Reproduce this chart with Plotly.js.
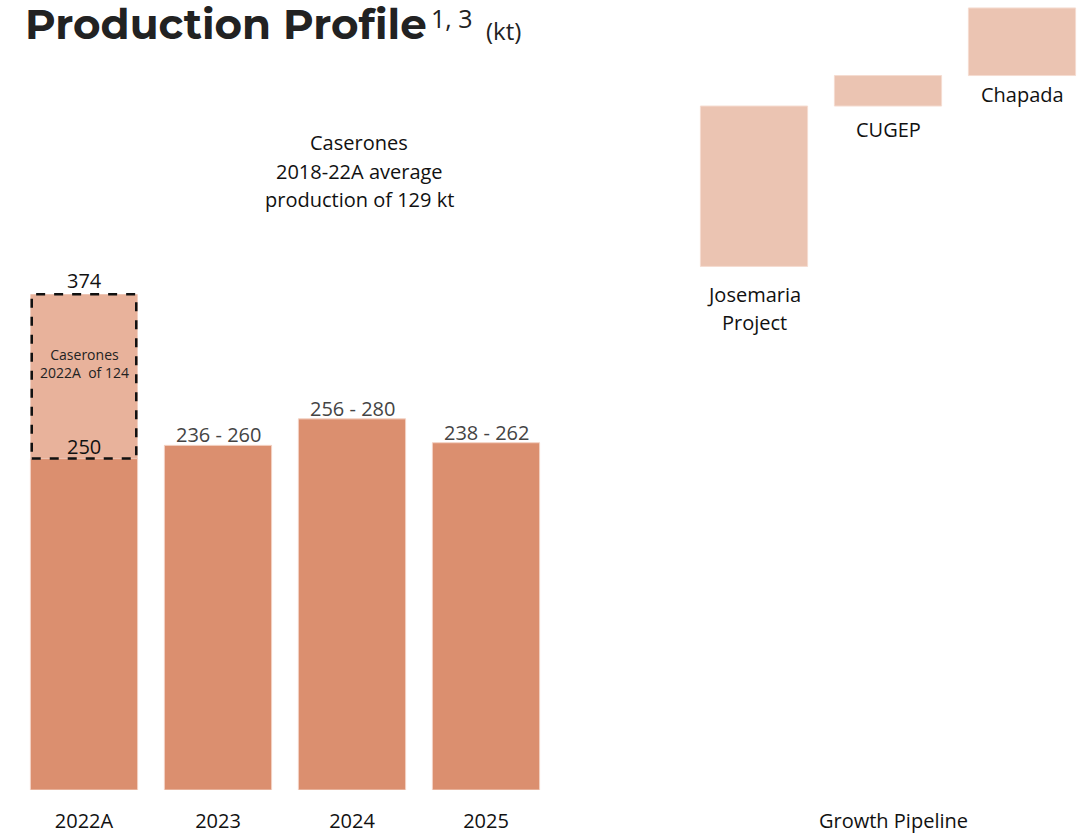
<!DOCTYPE html>
<html>
<head>
<meta charset="utf-8">
<script src="https://cdn.plot.ly/plotly-3.0.1.min.js"></script>
<style>html,body{margin:0;padding:0;background:#fff;}#chart{width:1089px;height:835px;}</style>
</head>
<body>
<div id="chart"></div>
<script>
// ---- data ----
var years = ['2022A', '2023', '2024', '2025'];
var yearPos = [0, 1, 2, 3];
var productionTop = [250, 260, 280, 262];
var rangeLabels = ['250', '236 - 260', '256 - 280', '238 - 262'];
var caseronesAdd = [124];
var caseronesTotal = 374;

var pipelineNames = ['Josemaria Project', 'CUGEP', 'Chapada'];
var pipelinePos = [5, 6, 7];
var pipelineBase = [395, 516, 539];
var pipelineSize = [121, 23, 51];

// ---- colours ----
var cMain = '#DB8F6F';
var cCaser = '#E8B29B';
var cPipe = '#EBC4B2';
var font = 'Open Sans, Noto Sans, sans-serif';

var traces = [
  {type: 'bar', x: yearPos, y: productionTop, width: 0.8,
   marker: {color: cMain, line: {color: '#f3d2c4', width: 1}}, hoverinfo: 'skip'},
  {type: 'bar', x: [0], y: caseronesAdd, base: [productionTop[0]], width: 0.8,
   marker: {color: cCaser, line: {width: 0}}, hoverinfo: 'skip'},
  {type: 'bar', x: pipelinePos, y: pipelineSize, base: pipelineBase, width: 0.8,
   marker: {color: cPipe, line: {color: '#f5dcd1', width: 1}}, hoverinfo: 'skip'}
];

var ann = [];
for (var i = 1; i < years.length; i++) {
  ann.push({x: yearPos[i], y: productionTop[i], xref: 'x', yref: 'y', text: rangeLabels[i],
    showarrow: false, yanchor: 'bottom', yshift: -5, font: {family: font, size: 20, color: '#444'}});
}
ann.push({x: 0, y: productionTop[0], text: rangeLabels[0], showarrow: false, yanchor: 'bottom', yshift: -3,
  font: {family: font, size: 20, color: '#111'}});
ann.push({x: 0, y: caseronesTotal, text: String(caseronesTotal), showarrow: false, yanchor: 'bottom', yshift: -2,
  font: {family: font, size: 20, color: '#111'}});
ann.push({x: 0, y: productionTop[0] + caseronesAdd[0] / 2, text: 'Caserones<br>2022A  of ' + caseronesAdd[0],
  showarrow: false, yshift: 13, font: {family: font, size: 14, color: '#222'}});

var note = ['Caserones', '2018-22A average', 'production of 129 kt'];
for (var j = 0; j < note.length; j++) {
  ann.push({xref: 'paper', yref: 'paper', x: (359 - 17) / 1072, y: 1 - (143 + 28 * j) / 790,
    text: note[j], showarrow: false, xanchor: 'center', yanchor: 'middle',
    font: {family: font, size: 20, color: '#111'}});
}

var pipeLines = [['Josemaria', 'Project'], ['CUGEP'], ['Chapada']];
var pipeShift = [28, 23, 19];
for (var k = 0; k < pipelinePos.length; k++) {
  for (var m = 0; m < pipeLines[k].length; m++) {
    ann.push({x: pipelinePos[k], y: pipelineBase[k], text: pipeLines[k][m], showarrow: false,
      yanchor: 'middle', yshift: -(pipeShift[k] + 28 * m), font: {family: font, size: 20, color: '#111'}});
  }
}
ann.push({xref: 'x', yref: 'paper', x: 6.04, y: 0, yanchor: 'middle', yshift: -30, text: 'Growth Pipeline',
  showarrow: false, font: {family: font, size: 20, color: '#111'}});

// title
ann.push({xref: 'paper', yref: 'paper', x: 6 / 1072, y: 1, xanchor: 'left', yanchor: 'middle', yshift: -24,
  text: '<b>Production Profile</b>', showarrow: false,
  font: {family: 'Montserrat, Lato, Open Sans, sans-serif', size: 42, color: '#222'}});
ann.push({xref: 'paper', yref: 'paper', x: (429 - 17) / 1072, y: 1, xanchor: 'left', yanchor: 'middle', yshift: -18,
  text: '1, 3', showarrow: false, font: {family: font, size: 25, color: '#222'}});
ann.push({xref: 'paper', yref: 'paper', x: (484 - 17) / 1072, y: 1, xanchor: 'left', yanchor: 'middle', yshift: -30,
  text: '(kt)', showarrow: false, font: {family: font, size: 24, color: '#222'}});

var layout = {
  width: 1089, height: 835,
  margin: {l: 17, r: 0, t: 0, b: 45},
  paper_bgcolor: '#fff', plot_bgcolor: '#fff',
  barmode: 'overlay', showlegend: false,
  xaxis: {range: [-0.5, 7.5], tickvals: yearPos, ticktext: years, showgrid: false, zeroline: false,
    showline: false, ticks: 'outside', ticklen: 13, tickcolor: 'rgba(0,0,0,0)',
    tickfont: {family: font, size: 20, color: '#111'}},
  yaxis: {range: [0, 596], visible: false, showgrid: false, zeroline: false},
  shapes: [{type: 'rect', xref: 'x', yref: 'y', x0: -0.39, x1: 0.39, y0: productionTop[0], y1: caseronesTotal,
    line: {color: '#111', width: 2.5, dash: 'dash'}, fillcolor: 'rgba(0,0,0,0)'}],
  annotations: ann
};
Plotly.newPlot('chart', traces, layout, {displayModeBar: false, staticPlot: true});
</script>
</body>
</html>
